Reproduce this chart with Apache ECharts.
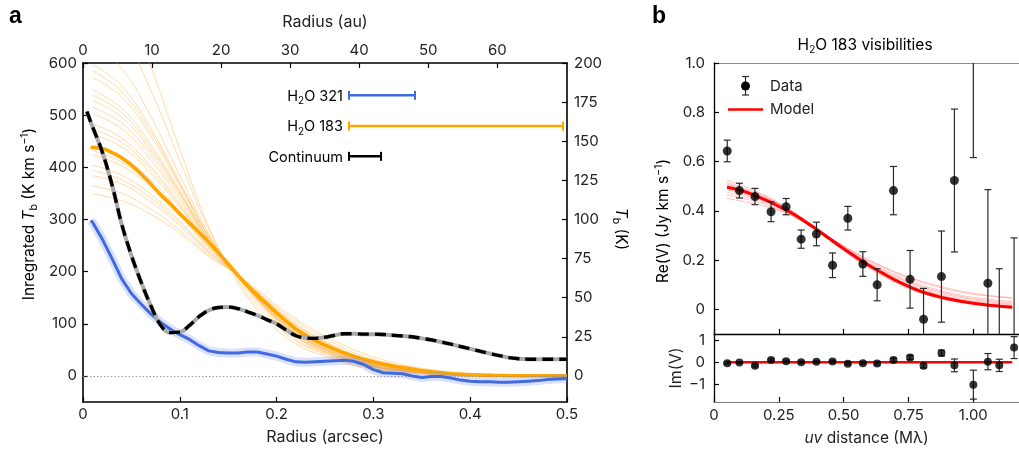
<!DOCTYPE html>
<html><head><meta charset="utf-8">
<script src="https://cdn.jsdelivr.net/npm/echarts@6/dist/echarts.min.js"></script>
<style>html,body{margin:0;padding:0;background:#fff}#c{width:1019px;height:451px}</style>
</head><body><div id="c"></div>
<script>
const FONT = 'Inter';
// ---------- Panel a data ----------
const rGrid = [0.008,0.01,0.02,0.03,0.04,0.05,0.06,0.07,0.08,0.09,0.10,0.11,0.12,0.13,0.14,0.15,0.16,0.17,0.18,0.19,0.20,0.21,0.22,0.23,0.24,0.25,0.26,0.27,0.28,0.29,0.30,0.31,0.32,0.33,0.34,0.35,0.36,0.37,0.38,0.39,0.40,0.41,0.42,0.43,0.44,0.45,0.46,0.47,0.48,0.49,0.50];
const h2o183 = [439,438,436,428,418,404,387,368,348,330,311,293,275,256,236,215,193,173,155,138,121,105,90,78,68,59,51,44,38,32,27,23,19,16,13,10,8,6,4,3,2,1.5,1,0.8,0.5,0.4,0.3,0.2,0.2,0.1,0];
const h2o321 = [298,294,262,225,186,158,138,119,103,90,79,70,58,48,45,44,44,46,46,42,38,32,27,26,27,28,29,30,28,22,12,6,5,4,0,-3,-1,-1,-4,-8,-10,-11,-11,-12,-12,-11,-10,-9,-7,-6,-5];
const contR = [0.004,0.01,0.02,0.03,0.04,0.05,0.06,0.07,0.08,0.09,0.10,0.11,0.12,0.13,0.14,0.15,0.16,0.17,0.18,0.19,0.20,0.21,0.22,0.23,0.24,0.25,0.26,0.27,0.28,0.29,0.30,0.31,0.32,0.33,0.34,0.35,0.36,0.37,0.38,0.39,0.40,0.41,0.42,0.43,0.44,0.45,0.46,0.47,0.48,0.49,0.50];
const contK = [169,159,143,122,97,77,60,45,32.7,27.7,28,32.3,38,42,43.7,44,43,41,38.7,36,33.3,29.3,25.7,24.3,24,24.7,26,27,27,26.7,26.7,26.5,26,25.5,25,24,23,21.7,20.3,18.8,17.3,15.8,14.3,13,11.7,11,10.7,10.7,10.7,10.7,10.7];
const fanR = [0.01,0.04,0.07,0.10,0.13,0.16,0.19,0.22,0.25,0.29,0.34,0.40,0.50];
const fan183 = [
 [795,726,593,435,285,179,107,61,38,16,5,1,0],
 [716,659,548,413,281,185,114,67,42,18,6,1,0],
 [637,590,498,384,272,189,121,71,44,20,7,1,0],
 [597,556,475,372,268,191,125,75,46,21,8,2,0],
 [585,545,468,368,267,192,127,76,47,22,8,2,0],
 [572,535,460,364,266,192,128,77,48,22,8,2,0],
 [548,513,444,355,262,191,129,79,50,23,9,2,0],
 [538,505,438,352,261,192,130,80,51,23,9,2,0],
 [528,496,432,349,261,192,131,81,52,24,9,2,0],
 [515,485,424,344,259,191,131,82,52,24,10,2,0],
 [503,474,415,338,257,191,132,83,53,25,10,2,0],
 [483,456,402,331,255,192,134,85,55,26,10,3,0],
 [473,448,396,327,253,192,135,86,56,26,11,3,0],
 [463,439,389,323,252,193,136,87,57,27,11,3,0],
 [443,421,376,315,248,193,138,90,59,28,12,3,0],
 [432,410,368,311,246,193,139,91,60,28,12,3,0],
 [424,403,362,307,245,193,140,93,61,29,12,3,0],
 [404,385,348,297,240,193,142,96,63,31,13,3,0],
 [394,376,341,293,238,193,143,98,65,32,13,3,0],
 [384,368,334,288,236,193,145,100,67,34,14,4,0],
 [364,350,320,279,232,193,147,105,72,38,16,4,0],
 [349,336,310,273,229,194,151,109,77,43,18,5,0]
];
const beamNames = ['{n|H}{sub|2}{n|O 321}','{n|H}{sub|2}{n|O 183}','{n|Continuum}'];
const beamStart = [0.2748,0.2748,0.2748];
const beamEnd = [0.343,0.4959,0.3079];
const beamY = [538,479,421];
const arcTicks = [0,0.1,0.2,0.3,0.4,0.5];
const auTicks = [0,10,20,30,40,50,60];
const leftTicks = [0,100,200,300,400,500,600];
const rightTicks = [0,25,50,75,100,125,150,175,200];
// ---------- Panel b data ----------
const uv = [0.051,0.098,0.158,0.220,0.278,0.336,0.395,0.457,0.516,0.574,0.629,0.692,0.756,0.808,0.877,0.927,1.000,1.056,1.100,1.157];
const reV = [0.643,0.482,0.458,0.396,0.417,0.285,0.306,0.179,0.370,0.184,0.100,0.482,0.122,-0.040,0.133,0.523,1.2,0.106,-0.2,-0.15];
const reErr = [0.044,0.030,0.033,0.040,0.033,0.037,0.048,0.050,0.048,0.050,0.065,0.098,0.117,0.125,0.185,0.290,0.584,0.38,0.365,0.44];
const imV = [-0.03,0.00,-0.15,0.12,0.06,0.01,0.03,0.05,-0.06,-0.03,-0.05,0.12,0.23,-0.15,0.43,-0.13,-1.01,0.04,-0.13,0.68];
const imErr = [0.04,0.04,0.05,0.05,0.05,0.05,0.05,0.05,0.05,0.05,0.06,0.08,0.10,0.10,0.13,0.29,0.66,0.37,0.28,0.50];
const modelU = [0.05,0.10,0.15,0.20,0.25,0.30,0.35,0.40,0.45,0.50,0.55,0.60,0.65,0.70,0.75,0.80,0.85,0.90,0.95,1.00,1.05,1.10,1.15];
const modelRe = [0.496,0.484,0.465,0.443,0.418,0.39,0.357,0.321,0.283,0.246,0.21,0.177,0.147,0.118,0.093,0.072,0.056,0.043,0.033,0.025,0.018,0.013,0.009];
const modelIm = [0.01,0.01,0.01,0.01,0.01,0.01,0.01,0.01,0.01,0.01,0.01,0.01,0.01,0.01,0.01,0.01,0.01,0.01,0.01,0.01,0.01,0.01,0.01];
const fanU = [0.05,0.15,0.25,0.35,0.45,0.55,0.65,0.75,0.85,0.95,1.05,1.15];
const fanRe = [
 [0.525,0.485,0.432,0.362,0.282,0.205,0.14,0.09,0.055,0.032,0.018,0.01],
 [0.515,0.478,0.43,0.365,0.29,0.215,0.152,0.1,0.065,0.042,0.027,0.018],
 [0.505,0.47,0.425,0.362,0.29,0.222,0.165,0.118,0.083,0.058,0.042,0.032],
 [0.485,0.455,0.415,0.358,0.29,0.225,0.172,0.128,0.095,0.07,0.055,0.045],
 [0.475,0.448,0.41,0.355,0.285,0.215,0.155,0.108,0.072,0.048,0.032,0.022],
 [0.465,0.44,0.405,0.352,0.284,0.212,0.15,0.1,0.063,0.038,0.022,0.012],
 [0.50,0.468,0.426,0.36,0.278,0.2,0.136,0.085,0.05,0.028,0.015,0.008],
 [0.45,0.43,0.40,0.352,0.29,0.228,0.175,0.132,0.1,0.075,0.058,0.048],
 [0.51,0.474,0.428,0.364,0.287,0.212,0.148,0.097,0.061,0.037,0.022,0.013],
 [0.49,0.46,0.418,0.358,0.287,0.218,0.16,0.112,0.078,0.053,0.037,0.027]
];
const uvTicks = [0,0.25,0.5,0.75,1.0];
const reTicks = [0,0.2,0.4,0.6,0.8,1.0];
const imTicks = [-1,0,1];

// ---------- styles ----------
const TXT = '#222';
const lab = {fontFamily: FONT, fontSize: 15, color: TXT};
const rich = {
  n: {fontFamily: FONT, fontSize: 15.5, lineHeight: 20, color: TXT},
  i: {fontFamily: FONT, fontSize: 15.5, lineHeight: 20, color: TXT, fontStyle: 'italic'},
  sub: {fontFamily: FONT, fontSize: 10.5, lineHeight: 11, color: TXT, verticalAlign: 'bottom'},
  sup: {fontFamily: FONT, fontSize: 10.5, lineHeight: 11, color: TXT, verticalAlign: 'top'}
};
const richSmall = {
  n: {fontFamily: FONT, fontSize: 14.5, lineHeight: 20, color: TXT},
  sub: {fontFamily: FONT, fontSize: 10, lineHeight: 11, color: TXT, verticalAlign: 'bottom'}
};
const nameStyle = {fontFamily: FONT, fontSize: 16, color: TXT};
function axLine(color, w){ return {show: true, onZero: false, lineStyle: {color: color, width: w}}; }
function ticks(vals, color){ return {show: true, inside: true, length: 5, customValues: vals, lineStyle: {color: color || '#000', width: 1.2}}; }
function labels(vals, fmt, margin){ return Object.assign({customValues: vals, formatter: fmt, margin: margin}, lab); }

function pairs(xs, ys){ return xs.map((x, i) => [x, ys[i]]); }

const series = [];
// orange fan
fan183.forEach(f => series.push({type: 'line', xAxisIndex: 0, yAxisIndex: 0, data: pairs(fanR, f), smooth: 0.4, symbol: 'none', silent: true, z: 1,
  lineStyle: {color: '#ffb040', width: 1, opacity: 0.45}}));
series.push({type: 'line', xAxisIndex: 0, yAxisIndex: 0, data: pairs(rGrid, h2o183), smooth: true, symbol: 'none', z: 3,
  lineStyle: {color: '#ffa500', width: 3.6}});
// blue band + line
series.push({type: 'line', xAxisIndex: 0, yAxisIndex: 0, data: pairs(rGrid, h2o321), symbol: 'none', z: 4,
  lineStyle: {color: 'rgba(120,150,235,0.28)', width: 9}});
series.push({type: 'line', xAxisIndex: 0, yAxisIndex: 0, data: pairs(rGrid, h2o321), symbol: 'none', z: 5,
  lineStyle: {color: '#4169e1', width: 3},
  markLine: {silent: true, symbol: ['none','none'], label: {show: false},
    lineStyle: {color: '#888', type: [1.5, 2], width: 0.8}, data: [{yAxis: 0}]}});
// continuum
series.push({type: 'line', xAxisIndex: 0, yAxisIndex: 1, data: pairs(contR, contK), smooth: 0.4, symbol: 'none', z: 6,
  lineStyle: {color: '#aaaaaa', width: 4}});
series.push({type: 'line', xAxisIndex: 0, yAxisIndex: 1, data: pairs(contR, contK), smooth: 0.4, symbol: 'none', z: 7,
  lineStyle: {color: '#000', width: 3.4, type: [11, 6]}});
// beam bars
const beamColors = ['#4169e1', '#ffa500', '#000'];
series.push({type: 'custom', xAxisIndex: 0, yAxisIndex: 0, z: 8,
  data: beamStart.map((s, i) => [s, beamEnd[i], beamY[i]]),
  renderItem: function(params, api){
    const p1 = api.coord([api.value(0), api.value(2)]);
    const p2 = api.coord([api.value(1), api.value(2)]);
    const c = beamColors[params.dataIndex];
    return {type: 'group', children: [
      {type: 'line', shape: {x1: p1[0], y1: p1[1], x2: p2[0], y2: p2[1]}, style: {stroke: c, lineWidth: 2.5}},
      {type: 'line', shape: {x1: p1[0], y1: p1[1]-4.5, x2: p1[0], y2: p1[1]+4.5}, style: {stroke: c, lineWidth: 2}},
      {type: 'line', shape: {x1: p2[0], y1: p2[1]-4.5, x2: p2[0], y2: p2[1]+4.5}, style: {stroke: c, lineWidth: 2}},
      {type: 'text', x: p1[0]-6, y: p1[1]+1, style: {text: beamNames[params.dataIndex], rich: richSmall, align: 'right', verticalAlign: 'middle'}}
    ]};
  }});

// ---- panel b ----
fanRe.forEach(f => series.push({type: 'line', xAxisIndex: 2, yAxisIndex: 2, data: pairs(fanU, f), smooth: true, symbol: 'none', silent: true, z: 1,
  lineStyle: {color: '#ff5050', width: 1, opacity: 0.35}}));
series.push({type: 'line', xAxisIndex: 2, yAxisIndex: 2, data: pairs(modelU, modelRe), smooth: true, symbol: 'none', z: 2,
  lineStyle: {color: '#ff0000', width: 3}});
series.push({type: 'line', xAxisIndex: 4, yAxisIndex: 3, data: pairs(modelU, modelIm), symbol: 'none', z: 2,
  lineStyle: {color: '#ff0000', width: 2.5}});
function errItem(params, api){
  const x = api.value(0), y = api.value(1), e = api.value(2);
  const cs = params.coordSys;
  const pt = api.coord([x, y + e]), pb = api.coord([x, y - e]);
  const top = Math.max(pt[1], cs.y), bot = Math.min(pb[1], cs.y + cs.height);
  const ch = [];
  const st = {stroke: '#2a2a2a', lineWidth: 1.2};
  if (bot > top) ch.push({type: 'line', shape: {x1: pt[0], y1: top, x2: pt[0], y2: bot}, style: st});
  if (pt[1] >= cs.y) ch.push({type: 'line', shape: {x1: pt[0]-3.5, y1: pt[1], x2: pt[0]+3.5, y2: pt[1]}, style: st});
  if (pb[1] <= cs.y + cs.height) ch.push({type: 'line', shape: {x1: pb[0]-3.5, y1: pb[1], x2: pb[0]+3.5, y2: pb[1]}, style: st});
  return {type: 'group', children: ch};
}
series.push({type: 'custom', xAxisIndex: 2, yAxisIndex: 2, z: 3, data: uv.map((u, i) => [u, reV[i], reErr[i]]), renderItem: errItem});
series.push({type: 'custom', xAxisIndex: 4, yAxisIndex: 3, z: 3, data: uv.map((u, i) => [u, imV[i], imErr[i]]), renderItem: errItem});
series.push({type: 'scatter', xAxisIndex: 2, yAxisIndex: 2, z: 4, data: pairs(uv, reV), symbolSize: 9, itemStyle: {color: '#000'}, clip: true});
series.push({type: 'scatter', xAxisIndex: 4, yAxisIndex: 3, z: 4, data: pairs(uv, imV), symbolSize: 8, itemStyle: {color: '#000'}, clip: true});

const option = {
  animation: false,
  backgroundColor: '#fff',
  grid: [
    {left: 83, top: 63, width: 484, height: 339},
    {left: 714, top: 63, width: 305, height: 271},
    {left: 714, top: 334, width: 305, height: 68}
  ],
  xAxis: [
    {type: 'value', gridIndex: 0, min: 0, max: 0.5, position: 'bottom', axisLine: axLine('#000', 1.6), axisTick: ticks(arcTicks),
     axisLabel: labels(arcTicks, v => v === 0 ? '0' : v.toFixed(1), 5), splitLine: {show: false},
     name: 'Radius (arcsec)', nameLocation: 'middle', nameGap: 27, nameTextStyle: nameStyle},
    {type: 'value', gridIndex: 0, min: 0, max: 70.1, position: 'top', axisLine: axLine('#000', 1.6), axisTick: ticks(auTicks),
     axisLabel: labels(auTicks, v => String(v), 5), splitLine: {show: false},
     name: 'Radius (au)', nameLocation: 'middle', nameGap: 33, nameTextStyle: nameStyle},
    {type: 'value', gridIndex: 1, min: 0, max: 1.176, position: 'bottom', axisLine: axLine('#000', 1.3), axisTick: ticks(uvTicks),
     axisLabel: {show: false}, splitLine: {show: false}},
    {type: 'value', gridIndex: 1, min: 0, max: 1.176, position: 'top', axisLine: axLine('#888', 1.2), axisTick: {show: false},
     axisLabel: {show: false}, splitLine: {show: false}},
    {type: 'value', gridIndex: 2, min: 0, max: 1.176, position: 'bottom', axisLine: axLine('#777', 1.2), axisTick: ticks(uvTicks),
     axisLabel: labels(uvTicks, v => v === 0 ? '0' : v.toFixed(2), 6), splitLine: {show: false},
     name: '{i|uv}{n| distance (Mλ)}', nameLocation: 'middle', nameGap: 26, nameTextStyle: {rich: rich}}
  ],
  yAxis: [
    {type: 'value', gridIndex: 0, min: -50, max: 600, position: 'left', axisLine: axLine('#000', 1.6), axisTick: ticks(leftTicks),
     axisLabel: labels(leftTicks, v => String(v), 6), splitLine: {show: false}},
    {type: 'value', gridIndex: 0, min: -50/3, max: 200, position: 'right', axisLine: axLine('#000', 1.6), axisTick: ticks(rightTicks),
     axisLabel: labels(rightTicks, v => String(v), 7), splitLine: {show: false}},
    {type: 'value', gridIndex: 1, min: -0.1, max: 1.0, position: 'left', axisLine: axLine('#000', 1.3), axisTick: ticks(reTicks),
     axisLabel: labels(reTicks, v => v === 0 ? '0' : v.toFixed(1), 9), splitLine: {show: false}},
    {type: 'value', gridIndex: 2, min: -1.8, max: 1.3, position: 'left', axisLine: axLine('#000', 1.3), axisTick: ticks(imTicks),
     axisLabel: labels(imTicks, v => v < 0 ? '−' + Math.abs(v) : String(v), 9), splitLine: {show: false},
     name: 'Im(V)', nameLocation: 'middle', nameGap: 30, nameTextStyle: nameStyle}
  ],
  graphic: [
    {type: 'text', left: 9, top: 5, style: {text: 'a', fontFamily: 'Liberation Sans', fontWeight: 'bold', fontSize: 23, fill: '#000'}},
    {type: 'text', left: 652, top: 5, style: {text: 'b', fontFamily: 'Liberation Sans', fontWeight: 'bold', fontSize: 23, fill: '#000'}},
    {type: 'text', x: 29, y: 214, rotation: Math.PI/2, style: {text: '{n|Inregrated }{i|T}{sub|b}{n| (K km s}{sup|−1}{n|)}', rich: rich, align: 'center', verticalAlign: 'middle'}},
    {type: 'text', x: 621, y: 229, rotation: -Math.PI/2, style: {text: '{i|T}{sub|b}{n| (K)}', rich: rich, align: 'center', verticalAlign: 'middle'}},
    {type: 'text', x: 663, y: 221, rotation: Math.PI/2, style: {text: '{n|Re(V) (Jy km s}{sup|−1}{n|)}', rich: rich, align: 'center', verticalAlign: 'middle'}},
    {type: 'text', x: 865, y: 45, style: {text: '{n|H}{sub|2}{n|O 183 visibilities}', rich: rich, align: 'center', verticalAlign: 'middle'}},
    // legend of panel b
    {type: 'line', shape: {x1: 745.5, y1: 76.5, x2: 745.5, y2: 95}, style: {stroke: '#2a2a2a', lineWidth: 1.2}},
    {type: 'line', shape: {x1: 742, y1: 76.5, x2: 749, y2: 76.5}, style: {stroke: '#2a2a2a', lineWidth: 1.2}},
    {type: 'line', shape: {x1: 742, y1: 95, x2: 749, y2: 95}, style: {stroke: '#2a2a2a', lineWidth: 1.2}},
    {type: 'circle', shape: {cx: 745.5, cy: 86, r: 4.5}, style: {fill: '#000'}},
    {type: 'text', x: 770, y: 86, style: {text: 'Data', fontFamily: FONT, fontSize: 15, fill: TXT, verticalAlign: 'middle'}},
    {type: 'line', shape: {x1: 728, y1: 109.5, x2: 763, y2: 109.5}, style: {stroke: '#ff0000', lineWidth: 2.5}},
    {type: 'text', x: 770, y: 109.5, style: {text: 'Model', fontFamily: FONT, fontSize: 15, fill: TXT, verticalAlign: 'middle'}}
  ],
  series: series
};
const chart = echarts.init(document.getElementById('c'), null, {renderer: 'canvas'});
chart.setOption(option);
</script></body></html>
